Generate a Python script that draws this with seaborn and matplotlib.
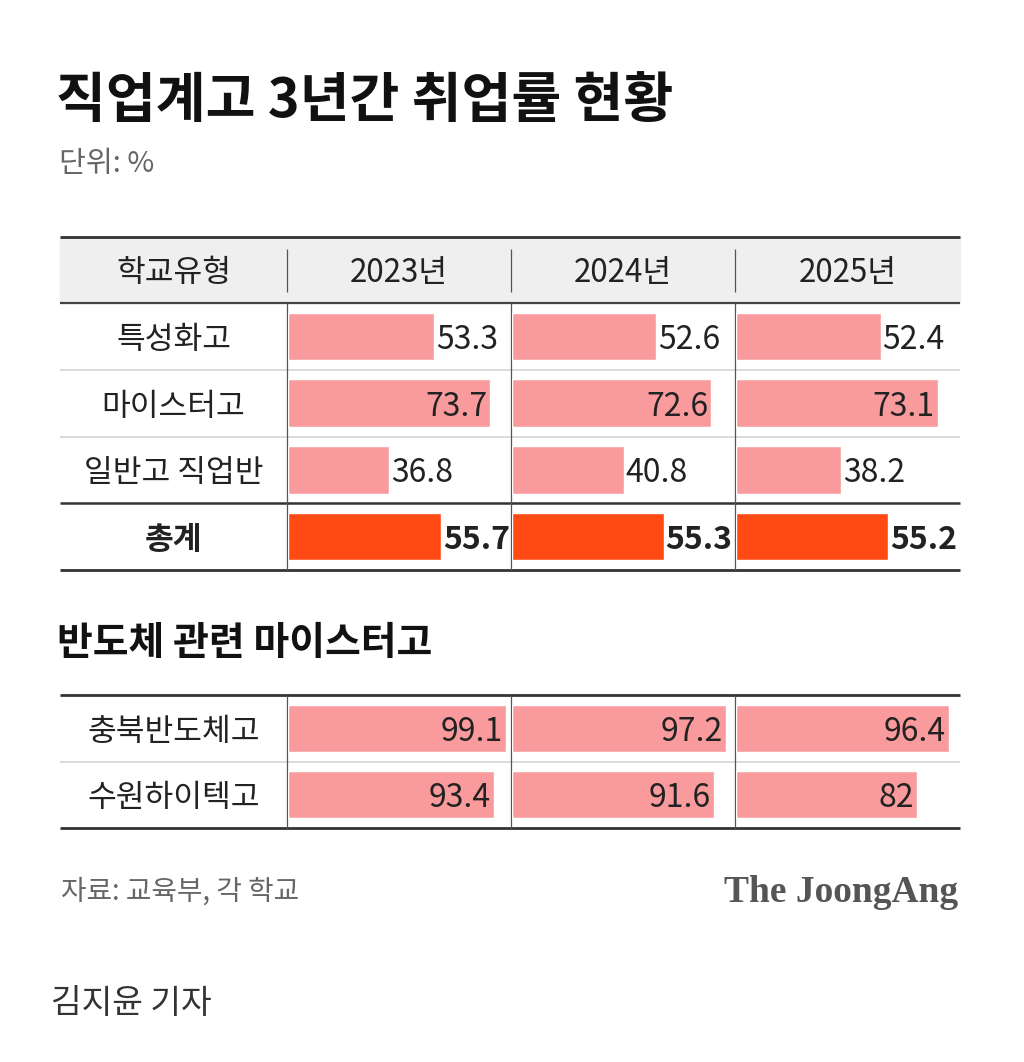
import matplotlib
matplotlib.use("Agg")
import matplotlib.pyplot as plt
import seaborn as sns
import pandas as pd

sns.set_theme(style="white")
plt.rcParams['font.family'] = ['Noto Sans CJK KR', 'DejaVu Sans']

# data
years = ['2023년', '2024년', '2025년']
school_types = ['특성화고', '마이스터고', '일반고 직업반', '총계']
rate_2023 = [53.3, 73.7, 36.8, 55.7]
rate_2024 = [52.6, 72.6, 40.8, 55.3]
rate_2025 = [52.4, 73.1, 38.2, 55.2]

chip_schools = ['충북반도체고', '수원하이텍고']
chip_2023 = [99.1, 93.4]
chip_2024 = [97.2, 91.6]
chip_2025 = [96.4, 82]

W, H = 1024, 1062
PINK = '#F99B9D'
ORANGE = '#FF4A14'
TXT = '#222222'

fig = plt.figure(figsize=(W / 100, H / 100), dpi=100)
fig.patch.set_facecolor('white')

# overlay axes in pixel coordinates for rules / headings
ov = fig.add_axes([0, 0, 1, 1])
ov.set_xlim(0, W)
ov.set_ylim(H, 0)
ov.axis('off')


def px_axes(x0, y0, x1, y1):
    a = fig.add_axes([x0 / W, 1 - y1 / H, (x1 - x0) / W, (y1 - y0) / H])
    a.patch.set_alpha(0)
    return a


def hline(y, color, lw, x0=60, x1=960):
    ov.plot([x0, x1], [y, y], color=color, lw=lw, solid_capstyle='butt')


def vline(x, y0, y1, color='#555555', lw=0.9):
    ov.plot([x, x], [y0, y1], color=color, lw=lw, solid_capstyle='butt')


col_x = [287, 511, 735, 960]


def draw_table(labels, series, colors, y0, y1, xmax, inside, bold_rows):
    n = len(labels)
    lab_ax = px_axes(60, y0, 287, y1)
    lab_ax.set_xlim(0, 1)
    lab_ax.set_ylim(n - 0.5, -0.5)
    lab_ax.axis('off')
    for i, lab in enumerate(labels):
        lab_ax.text(0.5, i, lab, ha='center', va='center_baseline', fontsize=22.5,
                    color=TXT, fontweight='bold' if i in bold_rows else 'normal')
    for c, vals in enumerate(series):
        ax = px_axes(col_x[c] + 1, y0, col_x[c + 1], y1)
        df = pd.DataFrame({'school': labels, 'value': vals})
        sns.barplot(data=df, x='value', y='school', hue='school', palette=colors,
                    legend=False, orient='h', width=0.71, saturation=1, ax=ax)
        ax.set_xlim(0, xmax)
        ax.set_ylim(n - 0.5, -0.5)
        ax.axis('off')
        for i, v in enumerate(vals):
            fw = 'bold' if i in bold_rows else 'normal'
            if inside[i]:
                ax.text(v - xmax * 0.015, i, f'{v:g}', ha='right', va='center_baseline',
                        fontsize=23, color=TXT, fontweight=fw)
            else:
                ax.text(v + xmax * 0.008, i, f'{v:g}', ha='left', va='center_baseline',
                        fontsize=23, color=TXT, fontweight=fw)


# title block
ov.text(56, 96, '직업계고 3년간 취업률 현황', fontsize=39, fontweight='heavy',
        color='#111111', ha='left', va='center_baseline')
ov.text(59, 160, '단위: %', fontsize=21, color='#666666', ha='left', va='center_baseline')

# table 1 header
ov.add_patch(plt.Rectangle((60, 237), 900, 66, color='#EFEFEF', zorder=0))
header = ['학교유형'] + years
for k, h in enumerate(header):
    xc = (col_x[k - 1] + col_x[k]) / 2 if k > 0 else (60 + 287) / 2
    ov.text(xc, 270, h, fontsize=22.5, color=TXT, ha='center', va='center_baseline',
            fontweight='medium' if k == 0 else 'normal')
for x in col_x[:3]:
    vline(x, 249, 292)

draw_table(school_types, [rate_2023, rate_2024, rate_2025],
           [PINK, PINK, PINK, ORANGE], 303, 570, 81.2,
           [False, True, False, False], [3])

hline(237, '#333333', 2.0)
hline(303, '#444444', 1.6)
hline(370, '#D4D4D4', 1.2)
hline(437, '#D4D4D4', 1.2)
hline(503, '#333333', 1.8)
hline(570, '#333333', 2.0)
for x in col_x[:3]:
    vline(x, 303, 570)

# table 2
ov.text(57, 640, '반도체 관련 마이스터고', fontsize=28, fontweight='heavy',
        color='#111111', ha='left', va='center_baseline')
draw_table(chip_schools, [chip_2023, chip_2024, chip_2025],
           [PINK, PINK], 695, 828, 101.3, [True, True], [])
hline(695, '#333333', 2.0)
hline(762, '#D4D4D4', 1.2)
hline(828, '#333333', 2.0)
for x in col_x[:3]:
    vline(x, 695, 828)

# footer
ov.text(61, 888, '자료: 교육부, 각 학교', fontsize=20, color='#666666',
        ha='left', va='center_baseline')
ov.text(958, 889, 'The JoongAng', fontsize=27, color='#555555', fontweight='bold',
        family='Liberation Serif', ha='right', va='center_baseline')
ov.text(51, 1000, '김지윤 기자', fontsize=24, color='#333333', fontweight='light',
        ha='left', va='center_baseline')

fig.savefig('out.png', dpi=100, facecolor='white')
